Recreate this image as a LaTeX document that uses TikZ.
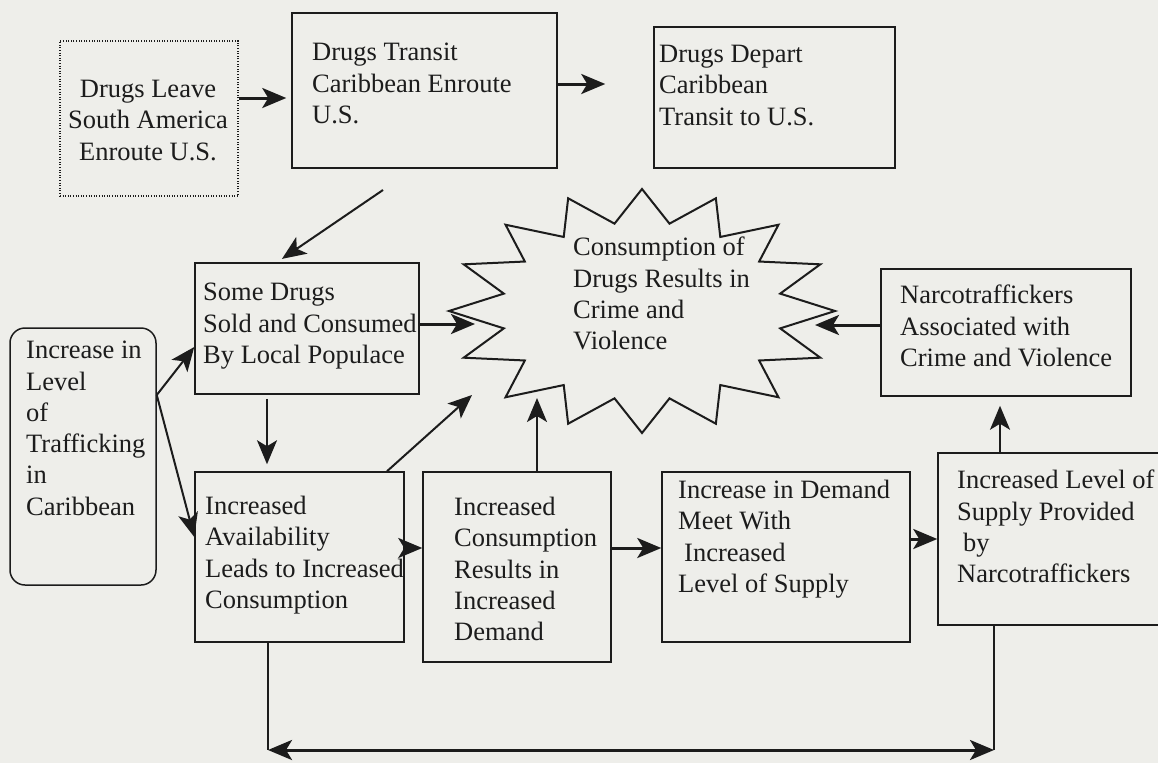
\documentclass[tikz,border=0pt]{standalone}
\usepackage{fontspec}
\setmainfont{Liberation Serif}
\usetikzlibrary{arrows.meta}
\definecolor{paper}{RGB}{238,238,234}
\definecolor{ink}{RGB}{28,28,28}
\begin{document}
\begin{tikzpicture}[x=1pt,y=-1pt,
  box/.style={draw=ink, line width=1.5pt, inner sep=0pt},
  dotbox/.style={draw=ink, line width=1.3pt, inner sep=0pt, dash pattern=on 1pt off 1.6pt},
  rbox/.style={draw=ink, line width=1.5pt, inner sep=0pt, rounded corners=15pt},
  txt/.style={font=\fontsize{26.5}{31.3}\selectfont, text=ink, align=left, inner sep=0pt, anchor=north west},
  tip/.style={-{Stealth[length=24pt,width=20pt,inset=6pt]}},
  arr/.style={draw=ink, line width=2pt, tip},
  arrT/.style={draw=ink, line width=3pt, tip},
  dbl/.style={draw=ink, line width=3pt, {Stealth[length=24pt,width=20pt,inset=6pt]}-{Stealth[length=24pt,width=20pt,inset=6pt]}},
  ln/.style={draw=ink, line width=1.6pt},
  lnT/.style={draw=ink, line width=2.4pt}
]
\useasboundingbox (0,0) rectangle (1158,763);
\fill[paper] (0,0) rectangle (1158,763);

% boxes
\node[dotbox, minimum width=178pt, minimum height=155pt] (b1) at (149,118.5) {};
\node[box, minimum width=265pt, minimum height=155pt] (b2) at (424.5,90.5) {};
\node[box, minimum width=241pt, minimum height=141pt] (b3) at (774.5,97.5) {};
\node[box, minimum width=224pt, minimum height=131pt] (sd) at (307,328.5) {};
\node[rbox, minimum width=146pt, minimum height=257pt] (inc) at (83,456.5) {};
\node[box, minimum width=209pt, minimum height=170pt] (av) at (299.5,557) {};
\node[box, minimum width=188pt, minimum height=190pt] (cons) at (517,567) {};
\node[box, minimum width=248pt, minimum height=170pt] (dem) at (786,557) {};
\node[box, minimum width=227pt, minimum height=172pt] (sup) at (1051.5,539) {};
\node[box, minimum width=250pt, minimum height=127pt] (nar) at (1006,332.5) {};

% starburst
\coordinate (star) at (642,311);
\draw[ink, line width=2pt, line join=miter]
  plot[samples at={0,...,31}, variable=\k]
  ({642+193*(0.865+0.135*cos(180*\k))*cos(90+11.25*\k)},
   {311-122*(0.865+0.135*cos(180*\k))*sin(90+11.25*\k)}) -- cycle;

% texts
\node[txt, anchor=north, align=center] (t1) at (148,80) {Drugs Leave\\South America\\Enroute U.S.};
\node[txt] (t2) at (312,43) {Drugs Transit\\Caribbean Enroute\\U.S.};
\node[txt] (t3) at (659,45) {Drugs Depart\\Caribbean\\Transit to U.S.};
\node[txt] (t4) at (203,283) {Some Drugs\\Sold and Consumed\\By Local Populace};
\node[txt] (t5) at (26,341) {Increase in\\Level\\of\\Trafficking\\in\\Caribbean};
\node[txt] (t6) at (205,496) {Increased\\Availability\\Leads to Increased\\Consumption};
\node[txt] (t7) at (454,497) {Increased\\Consumption\\Results in\\Increased\\Demand};
\node[txt] (t8) at (678,480) {Increase in Demand\\Meet With\\\hspace{6pt}Increased\\Level of Supply};
\node[txt] (t9) at (957,470) {Increased Level of\\Supply Provided\\\hspace{6pt}by\\Narcotraffickers};
\node[txt] (t10) at (900,285) {Narcotraffickers\\Associated with\\Crime and Violence};
\node[txt] (t11) at (573,237) {Consumption of\\Drugs Results in\\Crime and\\Violence};

% connectors
\draw[arrT, shorten >=5pt] (b1.east |- 0,98) -- (b2.west |- 0,98);
\draw[arrT, shorten >=48pt] (b2.east |- 0,84) -- (b3.west |- 0,84);
\coordinate (p1) at (383,190);
\draw[arr, shorten >=6pt] (p1) -- (sd.north -| 277,0);
\coordinate (s1) at (475,324);
\draw[arrT] (sd.east |- 0,324) -- (s1);
\coordinate (s2) at (472,395);
\draw[arr] (av.north -| 387,0) -- (s2);
\coordinate (s3) at (537,398);
\draw[arr] (cons.north -| 537,0) -- (s3);
\coordinate (s4) at (815,325);
\draw[arrT] (nar.west |- 0,325) -- (s4);
\draw[arr, shorten >=9pt] (sup.north -| 1000,0) -- (nar.south -| 1000,0);
\draw[arr, shorten <=4pt, shorten >=7pt] (sd.south -| 267,0) -- (av.north -| 267,0);
\coordinate (q) at (inc.east |- 0,395);
\draw[arr] (q) -- (sd.west |- 0,347);
\draw[arr] (q) -- (av.west |- 0,537);
\draw[arrT] (av.east |- 0,548) -- (cons.west |- 0,548);
\draw[arrT] (cons.east |- 0,548) -- (dem.west |- 0,548);
\draw[arrT] (dem.east |- 0,539) -- (sup.west |- 0,539);
\coordinate (bl) at (268,750);
\coordinate (br) at (994,750);
\draw[ln] (av.south -| bl) -- (bl);
\draw[lnT] (sup.south -| br) -- (br);
\draw[dbl] (bl) -- (br);
\end{tikzpicture}
\end{document}
